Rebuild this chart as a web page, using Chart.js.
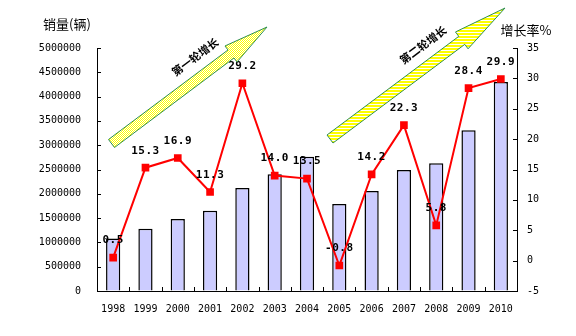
<!DOCTYPE html>
<html>
<head>
<meta charset="utf-8">
<script src="https://cdn.jsdelivr.net/npm/chart.js@4/dist/chart.umd.min.js"></script>
<style>
  html, body { margin: 0; padding: 0; background: #fff; }
  #c { display: block; }
</style>
</head>
<body>
<canvas id="c" width="576" height="336"></canvas>
<script>
// Years on the category axis
const years = ['1998','1999','2000','2001','2002','2003','2004','2005','2006','2007','2008','2009','2010'];
// Annual sales volume (vehicles), left axis
const salesVolume = [1080000, 1280000, 1480000, 1650000, 2120000, 2400000, 2760000, 1790000, 2060000, 2490000, 2630000, 3310000, 4300000];
// Year-on-year growth rate (%), right axis
const growthRate = [0.5, 15.3, 16.9, 11.3, 29.2, 14.0, 13.5, -0.8, 14.2, 22.3, 5.8, 28.4, 29.9];
// Axis titles
const leftTitle = '销量(辆)';
const rightTitle = '增长率%';
// Growth-phase annotations
const phaseLabels = ['第一轮增长', '第二轮增长'];

const tickFont = { family: 'DejaVu Sans Mono', size: 10 };

// Yellow fill patterns for the two phase arrows
function makePattern(kind) {
  const p = document.createElement('canvas');
  const ctx = p.getContext('2d');
  if (kind === 'dots') {
    p.width = 2; p.height = 2;
    ctx.fillStyle = '#ffffff'; ctx.fillRect(0, 0, 2, 2);
    ctx.fillStyle = '#ffff00';
    ctx.fillRect(0, 0, 1, 1); ctx.fillRect(1, 1, 1, 1);
  } else {
    p.width = 3; p.height = 3;
    ctx.fillStyle = '#ffffff'; ctx.fillRect(0, 0, 3, 3);
    ctx.fillStyle = '#ffff00'; ctx.fillRect(0, 0, 3, 2);
  }
  return document.getElementById('c').getContext('2d').createPattern(p, 'repeat');
}

function drawArrow(ctx, tx, ty, hx, hy, shaftHalf, headHalf, headLen, fill) {
  const dx = hx - tx, dy = hy - ty;
  const len = Math.hypot(dx, dy);
  const ux = dx / len, uy = dy / len;
  const nx = -uy, ny = ux;
  const b = len - headLen;
  const P = (a, s) => [tx + ux * a + nx * s, ty + uy * a + ny * s];
  const pts = [P(0, -shaftHalf), P(b, -shaftHalf), P(b, -headHalf), P(len, 0),
               P(b, headHalf), P(b, shaftHalf), P(0, shaftHalf)];
  ctx.beginPath();
  pts.forEach((q, i) => i ? ctx.lineTo(q[0], q[1]) : ctx.moveTo(q[0], q[1]));
  ctx.closePath();
  ctx.fillStyle = fill;
  ctx.fill();
  ctx.strokeStyle = '#2f8f4f';
  ctx.lineWidth = 1;
  ctx.stroke();
}

function drawRotatedText(ctx, text, cx, cy, angle) {
  ctx.save();
  ctx.translate(cx, cy);
  ctx.rotate(angle);
  ctx.font = 'bold 11px "Noto Sans CJK SC"';
  ctx.fillStyle = '#000';
  ctx.textAlign = 'center';
  ctx.textBaseline = 'middle';
  ctx.fillText(text, 0, 0);
  ctx.restore();
}

const decorPlugin = {
  id: 'decor',
  afterDatasetsDraw(chart) {
    const ctx = chart.ctx;
    const area = chart.chartArea;
    const xs = chart.scales.x, yl = chart.scales.y, yr = chart.scales.y1;
    ctx.save();
    // inward tick marks
    ctx.strokeStyle = '#000';
    ctx.lineWidth = 1;
    ctx.beginPath();
    yl.ticks.forEach(t => {
      const y = Math.round(yl.getPixelForValue(t.value)) + 0.5;
      ctx.moveTo(area.left, y); ctx.lineTo(area.left + 4, y);
    });
    yr.ticks.forEach(t => {
      const y = Math.round(yr.getPixelForValue(t.value)) + 0.5;
      ctx.moveTo(area.right, y); ctx.lineTo(area.right - 4, y);
    });
    for (let i = 1; i < years.length; i++) {
      const x = Math.round((xs.getPixelForValue(i - 1) + xs.getPixelForValue(i)) / 2) + 0.5;
      ctx.moveTo(x, area.bottom); ctx.lineTo(x, area.bottom - 4);
    }
    ctx.stroke();

    // growth-rate value labels
    const meta = chart.getDatasetMeta(1);
    ctx.font = 'bold 11px "DejaVu Sans Mono"';
    ctx.fillStyle = '#000';
    ctx.textAlign = 'center';
    ctx.textBaseline = 'middle';
    if ('letterSpacing' in ctx) ctx.letterSpacing = '0.5px';
    meta.data.forEach((pt, i) => {
      ctx.fillText(growthRate[i].toFixed(1), pt.x, pt.y - 17);
    });
    if ('letterSpacing' in ctx) ctx.letterSpacing = '0px';

    // axis titles
    ctx.font = '13px "Noto Sans CJK SC"';
    ctx.fillText(leftTitle, 67, 24);
    ctx.fillText(rightTitle, 526, 30);

    // growth-phase arrows
    const ang = Math.atan2(-116.5, 155.5);
    drawArrow(ctx, 111.5, 143.5, 267, 27, 5, 10, 45, makePattern('dots'));
    drawArrow(ctx, 330, 139, 505, 8, 5, 10.5, 54, makePattern('stripes'));
    drawRotatedText(ctx, phaseLabels[0], 195, 57, ang);
    drawRotatedText(ctx, phaseLabels[1], 423, 45, ang);
    ctx.restore();
  }
};

new Chart(document.getElementById('c'), {
  data: {
    labels: years,
    datasets: [
      {
        type: 'bar',
        data: salesVolume,
        yAxisID: 'y',
        backgroundColor: '#ccccff',
        borderColor: '#000',
        borderWidth: 1.5,
        categoryPercentage: 1,
        barPercentage: 0.44,
        order: 2
      },
      {
        type: 'line',
        data: growthRate,
        yAxisID: 'y1',
        borderColor: '#ff0000',
        borderWidth: 2,
        pointStyle: 'rect',
        pointRadius: 4,
        pointBackgroundColor: '#ff0000',
        pointBorderColor: '#ff0000',
        tension: 0,
        order: 1
      }
    ]
  },
  options: {
    responsive: false,
    animation: false,
    events: [],
    layout: { padding: { top: 48, left: 0, right: 0, bottom: 0 } },
    plugins: { legend: { display: false }, tooltip: { enabled: false } },
    scales: {
      x: {
        grid: { drawOnChartArea: false, drawTicks: false },
        border: { display: true, color: '#000', width: 1 },
        ticks: { font: tickFont, color: '#000', padding: 12, maxRotation: 0, autoSkip: false },
        afterFit: s => { s.height = 45; }
      },
      y: {
        position: 'left',
        min: 0, max: 5000000,
        grid: { drawOnChartArea: false, drawTicks: false },
        border: { display: true, color: '#000', width: 1 },
        ticks: { stepSize: 500000, font: tickFont, color: '#000', padding: 16, callback: v => String(v) },
        afterFit: s => { s.width = 97; }
      },
      y1: {
        position: 'right',
        min: -5, max: 35,
        grid: { drawOnChartArea: false, drawTicks: false },
        border: { display: true, color: '#000', width: 1 },
        ticks: { stepSize: 5, font: tickFont, color: '#000', padding: 10, callback: v => String(v) },
        afterFit: s => { s.width = 59; }
      }
    }
  },
  plugins: [decorPlugin]
});
</script>
</body>
</html>
